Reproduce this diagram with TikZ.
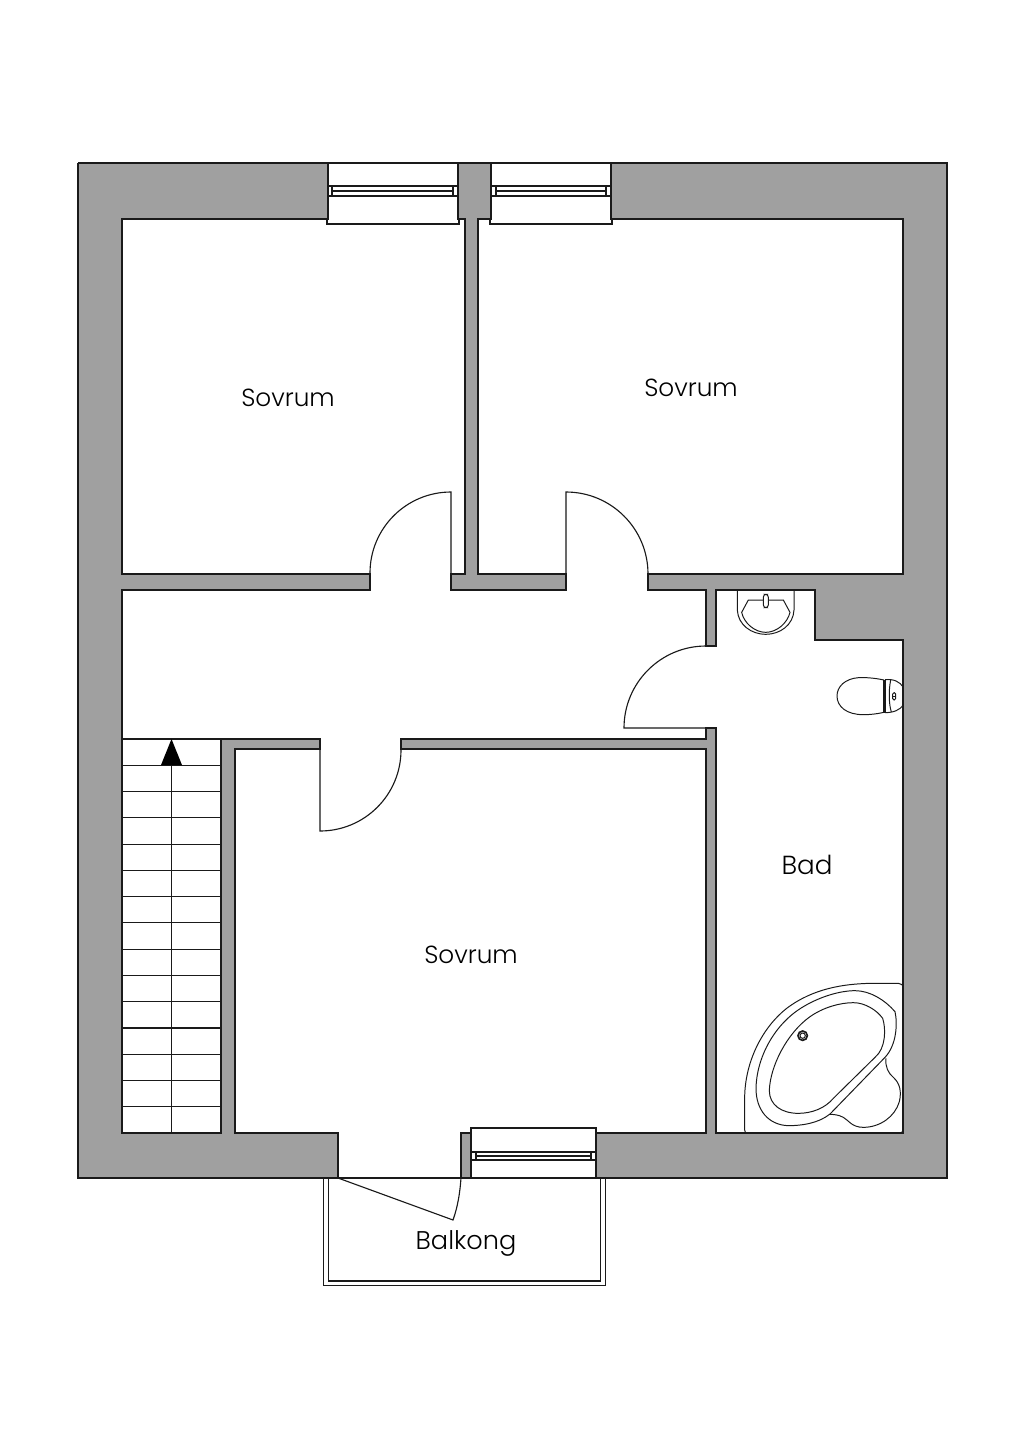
\documentclass[tikz,border=0pt]{standalone}
\usepackage{fontspec}
\setmainfont{Poppins Light}
\definecolor{wallgray}{HTML}{A0A0A0}
\definecolor{ink}{HTML}{1A1A1A}
\tikzset{
  wall/.style={draw=ink,line width=0.85pt,line join=miter},
  thin line/.style={draw=ink,line width=0.8pt},
  fixture/.style={draw=ink,line width=0.7pt},
  label/.style={font=\fontsize{17.6}{20}\selectfont,text=black,inner sep=0pt},
}
\begin{document}
\begin{tikzpicture}[x=0.025cm,y=-0.025cm]
\useasboundingbox (0,0) rectangle (1024,1448);
\fill[white] (0,0) rectangle (1024,1448);
% outer wall mass
\fill[wallgray] (78,163) rectangle (947,1178);
% white floor areas
\fill[white] (122,219)--(328,219)--(328,163)--(458,163)--(458,219)--(465,219)--(465,574)--(122,574)--cycle;
\fill[white] (327,219) rectangle (459,224);
\fill[white] (478,219)--(491,219)--(491,163)--(611,163)--(611,219)--(903,219)--(903,574)--(478,574)--cycle;
\fill[white] (490,219) rectangle (612,224);
\fill[white] (122,590)--(370,590)--(370,574)--(451,574)--(451,590)--(566,590)--(566,574)--(648,574)--(648,590)--(706,590)--(706,739)--(221,739)--(221,1133)--(122,1133)--cycle;
\fill[white] (706,646) rectangle (716,728);
\fill[white] (716,590)--(815,590)--(815,640)--(903,640)--(903,1133)--(716,1133)--cycle;
\fill[white] (235,749)--(706,749)--(706,1133)--(235,1133)--cycle;
\fill[white] (320,739) rectangle (401,749);
\fill[white] (338,1133) rectangle (461,1178);
\fill[white] (471,1128) rectangle (596,1178);
% wall outlines
\draw[wall] (78,163)--(328,163)--(328,219)--(122,219)--(122,574)--(370,574)--(370,590)--(122,590)--(122,1133)--(221,1133)--(221,739)--(320,739)--(320,749)--(235,749)--(235,1133)--(338,1133)--(338,1178);
\draw[wall] (78,163)--(78,1178)--(947,1178)--(947,163)--(611,163)--(611,219)--(903,219)--(903,574)--(648,574)--(648,590)--(706,590)--(706,646)--(716,646)--(716,590)--(815,590)--(815,640)--(903,640)--(903,1133)--(716,1133)--(716,728)--(706,728)--(706,739)--(401,739)--(401,749)--(706,749)--(706,1133)--(596,1133)--(596,1178);
\draw[wall] (328,163)--(458,163)--(458,219)--(465,219)--(465,574)--(451,574)--(451,590)--(566,590)--(566,574)--(478,574)--(478,219)--(491,219)--(491,163)--(611,163);
\draw[wall] (458,163)--(491,163);
\draw[wall] (471,1178)--(471,1133)--(461,1133)--(461,1178);
% window sills
\draw[thin line] (328,219)--(327,219)--(327,224)--(459,224)--(459,219);
\draw[thin line] (491,219)--(490,219)--(490,224)--(612,224)--(612,219);
\draw[thin line] (471,1133)--(471,1128)--(596,1128)--(596,1133);
% window frames
\draw[thin line] (328,186) rectangle (458,196);
\draw[thin line] (332,186)--(332,196) (453,186)--(453,196) (332,191)--(453,191);
\draw[thin line] (491,186) rectangle (611,196);
\draw[thin line] (496,186)--(496,196) (606,186)--(606,196) (496,191)--(606,191);
\draw[thin line] (471,1152) rectangle (596,1160);
\draw[thin line] (476,1152)--(476,1160) (591,1152)--(591,1160) (476,1156)--(591,1156);
% door leaves and swings
\draw[thin line] (451,574)--(451,492) arc[start angle=270,end angle=180,radius=81];
\draw[thin line] (566,574)--(566,492) arc[start angle=270,end angle=360,radius=82];
\draw[thin line] (706,728)--(624,728) arc[start angle=180,end angle=270,radius=82];
\draw[thin line] (320,749)--(320,831) arc[start angle=90,end angle=0,radius=81];
% balcony
\draw[thin line] (323.5,1178)--(323.5,1285.5)--(605.5,1285.5)--(605.5,1178);
\draw[thin line] (328.5,1178)--(328.5,1281)--(600.5,1281)--(600.5,1178);
\draw[thin line] (338,1178)--(453,1220) .. controls (458,1206) and (460,1192) .. (461,1178);
% stairs
\foreach \k in {0,...,14} {\draw[thin line] (122,{739+26.27*\k})--(221,{739+26.27*\k});}
\draw[thin line] (171.5,765)--(171.5,1133);
\fill[black] (171.5,739)--(182,765)--(161,765)--cycle;
% sink
\begin{scope}[shift={(700,580)},x=0.025cm/3,y=-0.025cm/3]
\draw[fixture] (112,30)--(112,90) .. controls (114,135) and (155,163) .. (197,163) .. controls (240,163) and (280,135) .. (282,90)--(282,30);
\draw[fixture] (145,60)--(125,97) .. controls (132,130) and (165,157) .. (197,157) .. controls (230,157) and (262,130) .. (270,97)--(250,60)--cycle;
\draw[fixture,fill=white,rounded corners=2pt] (190,43) rectangle (205,83);
% toilet
\draw[fixture] (552,300) .. controls (520,293) and (490,292) .. (475,293) .. controls (435,296) and (411,320) .. (411,348) .. controls (411,380) and (440,404) .. (490,404) .. controls (510,404) and (530,402) .. (552,397);
\draw[fixture,line width=0.9pt] (551,300)--(551,397) (555,299)--(555,398);
\draw[fixture] (555,299) .. controls (580,296) and (600,305) .. (610,322);
\draw[fixture] (610,375) .. controls (600,390) and (580,398) .. (555,398);
\draw[fixture] (572,300) .. controls (566,330) and (566,370) .. (574,396);
\draw[fixture,rounded corners=1pt] (578,338) rectangle (587,360);
\draw[fixture] (578,349)--(587,349);
\end{scope}
% bath
\begin{scope}[shift={(730,970)},x=0.025cm/3,y=-0.025cm/3]
\draw[fixture] (52,490) .. controls (47,490) and (44,486) .. (44,480)--(44,380) .. controls (46,270) and (100,170) .. (170,115) .. controls (250,55) and (340,42) .. (420,40)--(505,40) .. controls (514,40) and (520,46) .. (520,52);
\draw[fixture] (465,262)--(300,432) .. controls (265,460) and (215,467) .. (175,467) .. controls (115,465) and (78,420) .. (78,355) .. controls (80,260) and (135,160) .. (220,110) .. controls (270,80) and (330,62) .. (375,62) .. controls (420,62) and (465,90) .. (495,125) .. controls (503,160) and (500,225) .. (465,262) -- cycle;
\draw[fixture] (435,262)--(310,385) .. controls (285,415) and (245,430) .. (205,430) .. controls (155,430) and (118,405) .. (118,362) .. controls (120,290) and (170,190) .. (240,140) .. controls (280,112) and (330,98) .. (370,98) .. controls (405,98) and (440,120) .. (458,145) .. controls (468,175) and (468,235) .. (435,262) -- cycle;
\draw[fixture] (468,265) .. controls (465,290) and (475,310) .. (490,322) .. controls (510,340) and (515,365) .. (508,395) .. controls (495,440) and (450,472) .. (400,472) .. controls (365,472) and (355,450) .. (340,442) .. controls (325,434) and (310,433) .. (298,433);
\draw[fixture,rounded corners=3pt] (512,490) -- (520,490) -- (520,480);
\draw[ink,line width=1.2pt,fill=white] (218,197) circle[radius=14];
\draw[ink,line width=0.7pt] (218,197) circle[radius=8];
\end{scope}
% labels
\node[label] (roomA) at (288,397.5) {Sovrum};
\node[label] (roomB) at (691,387.5) {Sovrum};
\node[label] (roomC) at (471,954.5) {Sovrum};
\node[label,font=\fontsize{18.6}{20}\selectfont] (bath) at (807,865) {Bad};
\node[label,font=\fontsize{18.2}{20}\selectfont] (balcony) at (466,1243) {Balkong};
\end{tikzpicture}
\end{document}
